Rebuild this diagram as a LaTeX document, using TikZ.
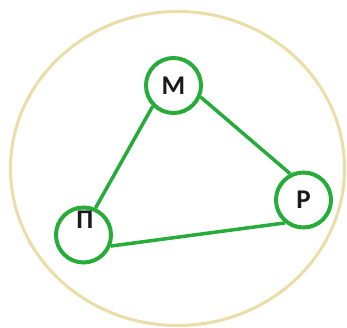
\documentclass[tikz,border=0pt]{standalone}
\usepackage{fontspec}
\setmainfont{Carlito}
\definecolor{linkgreen}{RGB}{38,172,56}
\definecolor{rimbeige}{RGB}{234,222,166}
\definecolor{letterdark}{RGB}{26,26,26}

\begin{document}
\begin{tikzpicture}[x=1pt, y=-1pt,
  vertex/.style={circle, draw=linkgreen, line width=4pt, minimum size=55pt, inner sep=0pt,
    text=letterdark, font=\fontsize{27}{27}\selectfont\bfseries},
  link/.style={draw=linkgreen, line width=3.5pt},
  rim/.style={draw=rimbeige, line width=3pt}]
  \useasboundingbox (0,0) rectangle (347,328);
  % outer ring, then the three vertices and their links
  \draw[rim] (177.5,168.5) ellipse (167 and 157);
  \node[vertex] (M) at (173.5,85.5) {М};
  \node[vertex] (R) at (303.5,200) {Р};
  \node[vertex, label={[text=letterdark, font=\fontsize{27}{27}\selectfont\bfseries, xshift=1.5pt, yshift=15pt]center:П}] (P) at (83.5,235) {};
  \draw[link] (M.225) -- (P.66);
  \draw[link] (M.-23) -- (R.117);
  \draw[link] (P.-22) -- (R.-129);
\end{tikzpicture}
\end{document}
